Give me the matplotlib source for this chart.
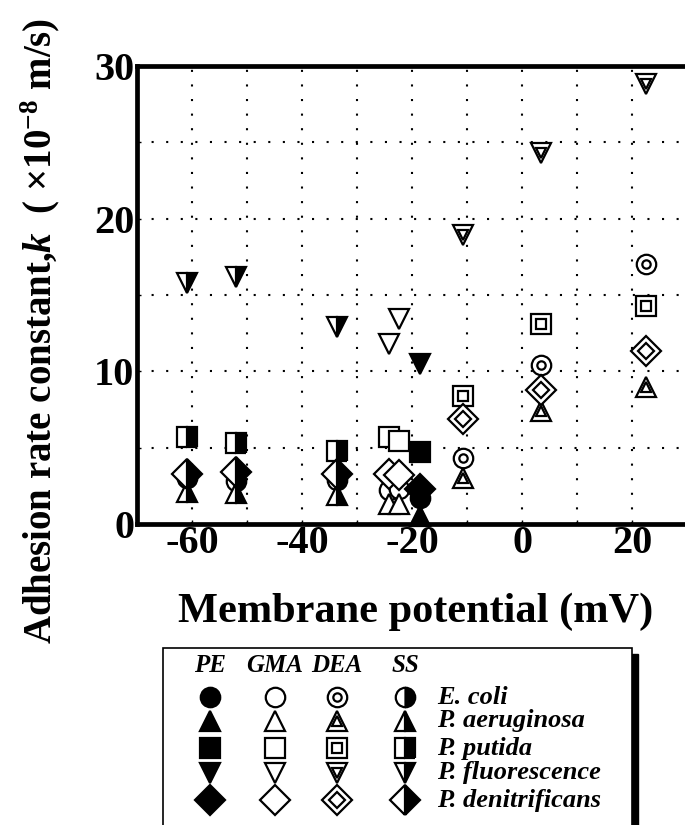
import matplotlib
matplotlib.use("Agg")
import matplotlib.pyplot as plt
from matplotlib.patches import Rectangle

plt.rcParams["font.family"] = "Liberation Serif"
plt.rcParams["font.weight"] = "bold"
plt.rcParams["axes.unicode_minus"] = False
plt.rcParams["mathtext.fontset"] = "custom"
plt.rcParams["mathtext.rm"] = "Liberation Serif:bold"
plt.rcParams["mathtext.it"] = "Liberation Serif:bold:italic"
plt.rcParams["mathtext.bf"] = "Liberation Serif:bold"

# ===== DATA =====
bacteria = ["E. coli", "P. aeruginosa", "P. putida", "P. fluorescence", "P. denitrificans"]
surfaces = ["PE", "GMA", "DEA", "SS"]

# membrane potential (mV) for each surface
pe_mv = [-18.6]
gma_mv = [-24.2, -22.4]
dea_mv = [-10.8, 3.5, 22.5]
ss_mv = [-60.9, -52.0, -33.6]

# adhesion rate constant k (x1e-8 m/s), one row per bacterium
pe_k = [[1.7], [0.5], [4.7], [10.5], [2.3]]
gma_k = [[2.2, 2.3], [1.3, 1.3], [5.7, 5.45], [11.8, 13.4], [3.3, 3.2]]
dea_k = [[4.3, 10.4, 17.0], [3.0, 7.4, 9.0], [8.4, 13.1, 14.3],
         [18.9, 24.3, 28.8], [6.9, 8.8, 11.35]]
ss_k = [[3.0, 2.8, 2.9], [2.1, 2.0, 1.9], [5.7, 5.3, 4.8],
        [15.8, 16.2, 12.9], [3.3, 3.4, 3.3]]

x_ticks = [-60, -40, -20, 0, 20]
y_ticks = [0, 10, 20, 30]

# ===== STYLE =====
markers = ["o", "^", "s", "v", "D"]
sizes = [14, 14.5, 14, 14.5, 15]
inner_sizes = [6, 7, 6.5, 7, 8]
zorders = [3, 4, 5, 5, 6]
MEW = 1.6


def draw(ax, xs, ks, surface, i):
    base = dict(ls="none", marker=markers[i], ms=sizes[i], mew=MEW,
                mec="black", zorder=zorders[i], clip_on=False)
    if surface == "PE":
        ax.plot(xs, ks, mfc="black", **base)
    elif surface == "GMA":
        ax.plot(xs, ks, mfc="white", **base)
    elif surface == "DEA":
        ax.plot(xs, ks, mfc="white", **base)
        base["ms"] = inner_sizes[i]
        ax.plot(xs, ks, mfc="white", **base)
    else:
        ax.plot(xs, ks, fillstyle="right", mfc="black", mfcalt="white", **base)


# ===== PLOT =====
fig = plt.figure(figsize=(6.85, 8.25), dpi=100)
ax = fig.add_axes([137 / 685, 301 / 825, 550 / 685, 458 / 825])

series = [("GMA", gma_mv, gma_k), ("DEA", dea_mv, dea_k),
          ("SS", ss_mv, ss_k), ("PE", pe_mv, pe_k)]
for surface, mv, k in series:
    for i in range(len(bacteria)):
        draw(ax, mv, k[i], surface, i)

ax.set_xlim(-70, 30)
ax.set_ylim(0, 30)
ax.set_xticks(x_ticks)
ax.set_xticks(range(-70, 31, 10), minor=True)
ax.set_yticks(y_ticks)
ax.set_yticks(range(0, 31, 5), minor=True)
ax.tick_params(which="both", direction="in", length=3, width=1)
ax.tick_params(axis="x", labelsize=29, pad=1)
ax.tick_params(axis="y", labelsize=29, pad=2)
ax.grid(which="both", color="black", linestyle=(0, (1, 6)), linewidth=1.5)
for side in ["left", "bottom", "top"]:
    ax.spines[side].set_linewidth(3.4)
ax.spines["right"].set_visible(False)

fig.text(416 / 685, 1 - 612 / 825, "Membrane potential (mV)",
         fontsize=30.5, ha="center", va="center")
fig.text(40 / 685, 1 - 331 / 825,
         "Adhesion rate constant,$\\mathit{k}$  ( \u00d710$^{-8}$ m/s)",
         fontsize=28, rotation=90, ha="center", va="center")

# ===== LEGEND =====
lg = fig.add_axes([0, 0, 1, 1])
lg.set_xlim(0, 685)
lg.set_ylim(825, 0)
lg.axis("off")
lg.add_patch(Rectangle((632, 654), 6, 180, color="black", zorder=1))
lg.add_patch(Rectangle((163, 648), 469, 190, facecolor="white",
                       edgecolor="black", lw=1.2, zorder=2))

col_x = [210, 275, 337, 405]
row_y = [697, 721, 748, 773, 800]
for c, surface in enumerate(surfaces):
    lg.text(col_x[c], 665, surface, fontsize=18, style="italic",
            ha="center", va="center", zorder=3)
    for i in range(len(bacteria)):
        draw(lg, [col_x[c]], [row_y[i]], surface, i)
for i, name in enumerate(bacteria):
    lg.text(437, row_y[i], name, fontsize=19, style="italic",
            ha="left", va="center", zorder=3)

fig.savefig("out.png", dpi=100)
